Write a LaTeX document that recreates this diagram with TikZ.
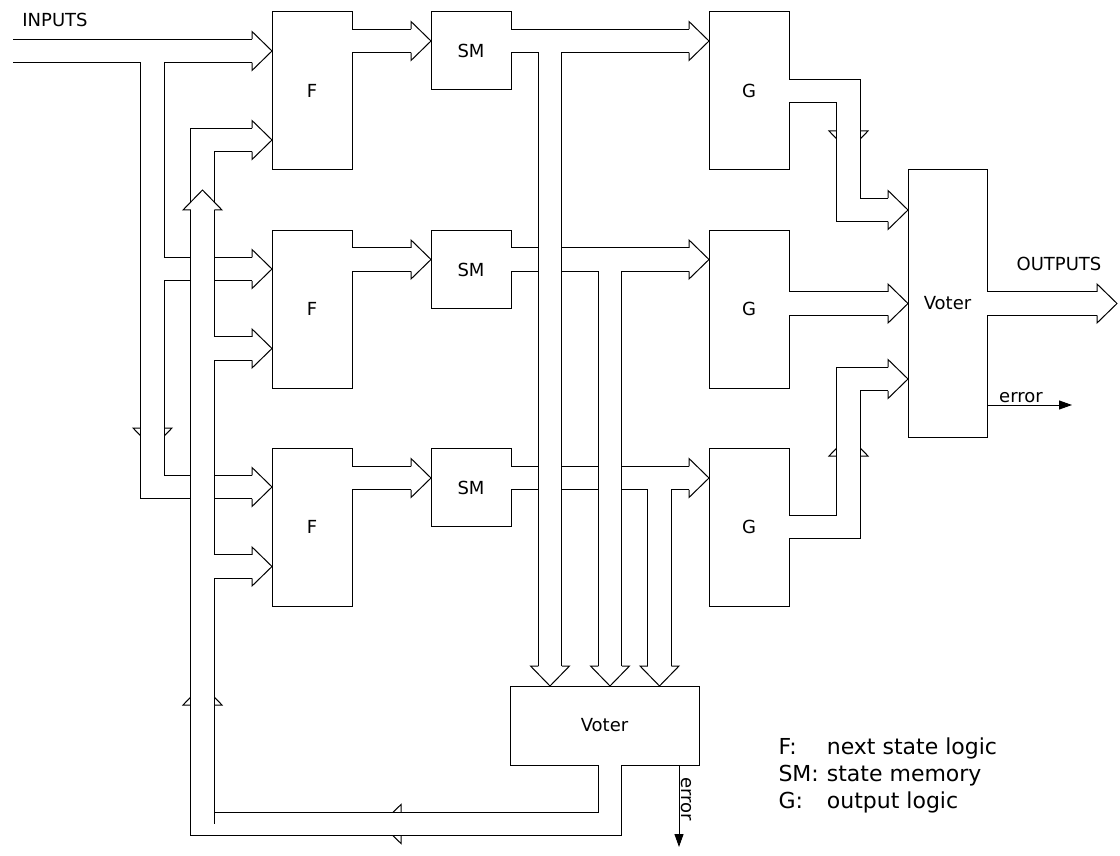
\documentclass[tikz,border=0pt]{standalone}
\usepackage{fontspec}
\setmainfont{DejaVu Sans}
\usetikzlibrary{calc,arrows.meta}
\tikzset{
  bus/.style={double=white,double distance=11.25pt,line join=miter},
  busto/.style={bus,shorten >=10pt},
  pics/bushead/.style={code={\filldraw[fill=white] (-20,-11.75) -- (-20,-19.5) -- (0,0) -- (-20,19.5) -- (-20,11.75);}}
}
\begin{document}
\begin{tikzpicture}[x=0.5pt,y=-0.5pt,line width=0.5pt,font=\fontsize{9}{11}\selectfont]
\tikzstyle{box}=[draw,fill=white,inner sep=0pt,outer sep=0pt,minimum width=40pt,minimum height=79pt]
\tikzstyle{smbox}=[box,minimum height=39pt]
\useasboundingbox (0,0) rectangle (1120,856);
% blocks
\node[box](f1) at (312,91) {F};
\node[box](f2) at (312,309) {F};
\node[box](f3) at (312,527) {F};
\node[smbox](sm1) at (471,51) {SM};
\node[smbox](sm2) at (471,269.5) {SM};
\node[smbox](sm3) at (471,487.5) {SM};
\node[box](g1) at (749,91) {G};
\node[box](g2) at (749,309) {G};
\node[box](g3) at (749,527) {G};
\node[box,minimum width=39.5pt,minimum height=133.5pt](vout) at (947.5,303.5) {Voter};
\node[box,minimum width=94.5pt,minimum height=39.5pt](vst) at (604.5,725.5) {Voter};
\node(inlbl) at (55,20) {INPUTS};
\node(outlbl) at (1059,263.5) {OUTPUTS};
% inputs
\coordinate (in) at (13,51);
\draw[busto] (in) -- (f1.west |- in);
\pic at (f1.west |- in) {bushead};
\pic[rotate=-90] at (152.5,448) {bushead};
\draw[busto] (152.5,62) -- (152.5,487) -- (f3.west |- 0,487);
\pic at (f3.west |- 0,487) {bushead};
\draw[busto] (163.75,269) -- (f2.west |- 0,269);
\pic at (f2.west |- 0,269) {bushead};
% state feedback
\pic[rotate=180] at (381,824) {bushead};
\pic[rotate=90] at (202.5,685) {bushead};
\draw[bus] (vst.south -| 610,0) -- (610,824) -- (202.5,824) -- (202.5,210);
\draw (214.25,812.25) -- (214.25,824);
\draw[busto] (213.75,348.5) -- (f2.west |- 0,348.5);
\pic at (f2.west |- 0,348.5) {bushead};
\draw[busto] (213.75,566.5) -- (f3.west |- 0,566.5);
\pic at (f3.west |- 0,566.5) {bushead};
\draw[busto] (202.5,212) -- (202.5,140) -- (f1.west |- 0,140);
\pic at (f1.west |- 0,140) {bushead};
\pic[rotate=90] at (202.5,190) {bushead};
% F -> SM -> G
\draw[busto] (f1.east |- 0,41) -- (sm1.west |- 0,41);
\pic at (sm1.west |- 0,41) {bushead};
\draw[busto] (f2.east |- 0,259.5) -- (sm2.west |- 0,259.5);
\pic at (sm2.west |- 0,259.5) {bushead};
\draw[busto] (f3.east |- 0,478) -- (sm3.west |- 0,478);
\pic at (sm3.west |- 0,478) {bushead};
\draw[busto] (sm1.east |- 0,41) -- (g1.west |- 0,41);
\pic at (g1.west |- 0,41) {bushead};
\draw[busto] (sm2.east |- 0,259.5) -- (g2.west |- 0,259.5);
\pic at (g2.west |- 0,259.5) {bushead};
\draw[busto] (sm3.east |- 0,478) -- (g3.west |- 0,478);
\pic at (g3.west |- 0,478) {bushead};
% states to the voter
\draw[busto] (550,52.25) -- (vst.north -| 550,0);
\pic[rotate=-90] at (vst.north -| 550,0) {bushead};
\draw[busto] (610,270.75) -- (vst.north -| 610,0);
\pic[rotate=-90] at (vst.north -| 610,0) {bushead};
\draw[busto] (659.5,489.25) -- (vst.north -| 659.5,0);
\pic[rotate=-90] at (vst.north -| 659.5,0) {bushead};
% outputs to the voter
\pic[rotate=-90] at (848.5,151) {bushead};
\draw[busto] (g1.east) -- (848.5,91) |- (vout.west |- 0,210);
\pic at (vout.west |- 0,210) {bushead};
\draw[busto] (g2.east |- vout.west) -- (vout.west);
\pic at (vout.west) {bushead};
\pic[rotate=90] at (848.5,436) {bushead};
\draw[busto] (g3.east) -- (848.5,527) |- (vout.west |- 0,379);
\pic at (vout.west |- 0,379) {bushead};
\coordinate (out) at (1117,303.5);
\draw[busto] (vout.east) -- (out);
\pic at (out) {bushead};
% error signals
\draw[-{Triangle[length=6.5pt,width=4.5pt]}] (vout.east |- 0,405) -- (1072,405) node[pos=0.4,above,inner sep=1pt]{error};
\draw[-{Triangle[length=6.5pt,width=4.5pt]}] (vst.south -| 679,0) -- (679,847) node[pos=0.42,rotate=-90,anchor=south,inner sep=1pt]{error};
% legend
\node[anchor=north west,inner sep=0pt,font=\fontsize{11}{13.5}\selectfont](key) at (778,735) {\begin{tabular}{@{}l@{\hspace{4pt}}l@{}}F: & next state logic\\SM: & state memory\\G: & output logic\end{tabular}};
\end{tikzpicture}
\end{document}
